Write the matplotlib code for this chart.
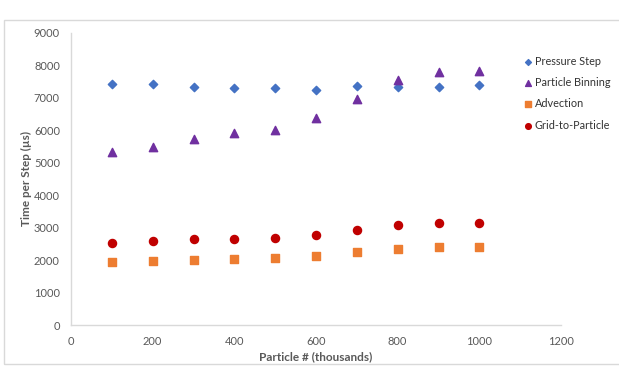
import matplotlib
matplotlib.use("Agg")
import matplotlib.pyplot as plt
from matplotlib.patches import Rectangle

plt.rcParams['font.family'] = ['Lato', 'DejaVu Sans']

particles = [100, 200, 300, 400, 500, 600, 700, 800, 900, 1000]
pressure_step = [7420, 7420, 7340, 7300, 7300, 7250, 7370, 7350, 7330, 7400]
particle_binning = [5320, 5500, 5730, 5905, 6020, 6380, 6975, 7560, 7800, 7820]
advection = [1945, 1985, 2015, 2040, 2070, 2120, 2255, 2355, 2400, 2400]
grid_to_particle = [2540, 2595, 2645, 2665, 2695, 2780, 2940, 3085, 3140, 3150]

W, H = 619, 366
fig = plt.figure(figsize=(W / 100, H / 100), dpi=100)
ax = fig.add_axes([71 / W, 1 - 325 / H, (561 - 71) / W, (325 - 33) / H])

# chart border
fig.patches.append(Rectangle((4 / W, 1 - 364 / H), 1.0, (364 - 20) / H,
                             transform=fig.transFigure, fill=False,
                             edgecolor='#d9d9d9', linewidth=1))

ax.scatter(particles, pressure_step, marker='D', s=18, color='#4472c4',
           label='Pressure Step', zorder=3)
ax.scatter(particles, particle_binning, marker='^', s=36, color='#7030a0',
           label='Particle Binning', zorder=3)
ax.scatter(particles, advection, marker='s', s=28, color='#ed7d31',
           label='Advection', zorder=3)
ax.scatter(particles, grid_to_particle, marker='o', s=34, color='#c00000',
           label='Grid-to-Particle', zorder=3)

ax.set_xlim(0, 1200)
ax.set_ylim(0, 9000)
ax.set_xticks(range(0, 1201, 200))
ax.set_yticks(range(0, 9001, 1000))

for s in ['top', 'right']:
    ax.spines[s].set_visible(False)
for s in ['left', 'bottom']:
    ax.spines[s].set_color('#d9d9d9')
    ax.spines[s].set_linewidth(1)
ax.tick_params(length=0, labelsize=8, colors='#595959', pad=8)

ax.set_xlabel('Particle # (thousands)', fontsize=8.5, fontweight='bold',
              color='#595959', labelpad=3)
ax.set_ylabel('Time per Step (µs)', fontsize=8.5, fontweight='bold',
              color='#595959', labelpad=1)

leg = fig.legend(loc='upper left', bbox_to_anchor=(511 / W, 1 - 46 / H),
                 frameon=False, fontsize=7.8, labelspacing=0.95,
                 handletextpad=0.0, handlelength=1.3, markerscale=0.7)
for t in leg.get_texts():
    t.set_color('#333333')

fig.savefig('out.png', dpi=100)
